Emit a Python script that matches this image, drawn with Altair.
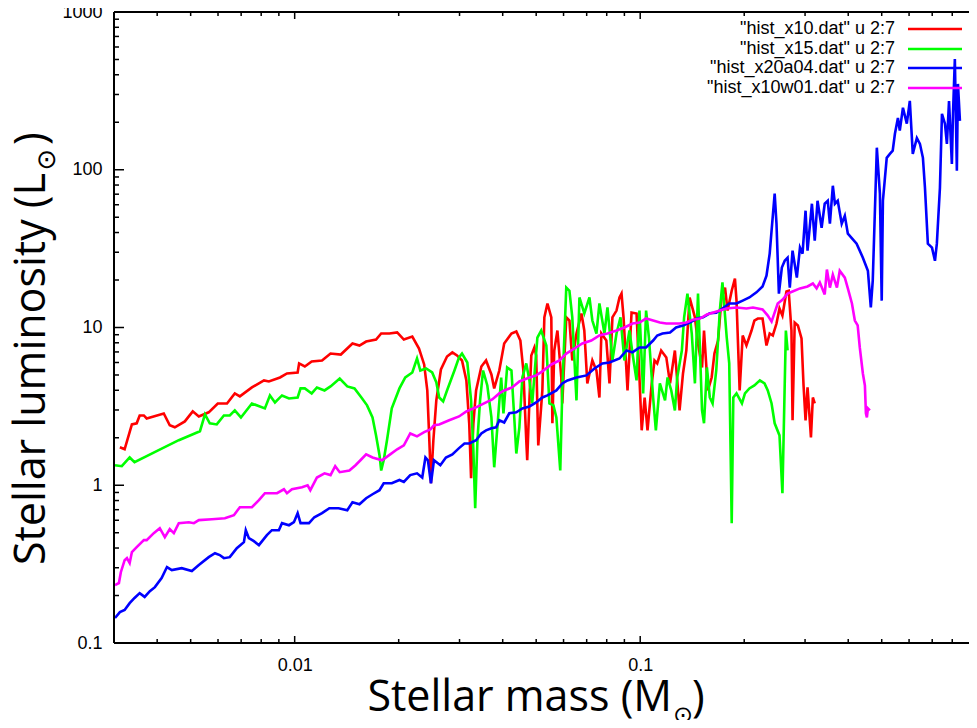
import altair as alt
import pandas as pd

# ---- data: (stellar mass [Msun], stellar luminosity [Lsun]) ----
red_points = [(0.00312,1.74),(0.00322,1.69),(0.00338,2.43),(0.00349,2.47),(0.00356,2.77),(0.00366,2.77),(0.00373,2.65),(0.00418,2.85),(0.00435,2.40),(0.00450,2.33),(0.00481,2.54),(0.00507,2.94),(0.00528,2.73),(0.00564,2.90),(0.00599,3.30),(0.00637,3.30),(0.00671,3.82),(0.00694,3.66),(0.00752,4.17),(0.00815,4.62),(0.00842,4.55),(0.00907,4.82),(0.00950,5.11),(0.0102,5.19),(0.0103,5.92),(0.0107,5.66),(0.0112,6.09),(0.0120,6.18),(0.0127,6.84),(0.0136,6.74),(0.0147,7.92),(0.0154,7.69),(0.0161,8.15),(0.0172,8.39),(0.0178,9.16),(0.0188,9.16),(0.0198,9.30),(0.0207,8.39),(0.0219,8.77),(0.0229,7.36),(0.0237,5.83),(0.0242,3.99),(0.0245,2.07),(0.0248,1.03),(0.0252,1.93),(0.0257,3.45),(0.0265,5.42),(0.0276,6.55),(0.0286,6.95),(0.0295,6.65),(0.0305,6.18),(0.0314,4.62),(0.0320,2.47),(0.0324,1.11),(0.0329,2.47),(0.0335,3.99),(0.0347,5.66),(0.0358,6.18),(0.0371,5.04),(0.0378,4.11),(0.0391,5.34),(0.0404,7.92),(0.0424,9.16),(0.0438,9.43),(0.0450,8.27),(0.0459,5.34),(0.0468,1.93),(0.0471,1.44),(0.0478,3.45),(0.0484,6.65),(0.0494,7.47),(0.0500,6.65),(0.0507,1.79),(0.0521,3.99),(0.0528,11.6),(0.0539,14.2),(0.0553,11.6),(0.0557,2.47),(0.0564,7.15),(0.0576,9.57),(0.0591,4.82),(0.0595,3.30),(0.0611,11.6),(0.0624,11.07),(0.0636,6.18),(0.0654,9.16),(0.0676,12.26),(0.0689,9.57),(0.0703,4.42),(0.0727,6.18),(0.0747,5.34),(0.0762,3.60),(0.0772,9.16),(0.0798,8.27),(0.0815,4.42),(0.0831,11.6),(0.0854,12.8),(0.0871,15.5),(0.0883,16.4),(0.0895,11.6),(0.0919,3.99),(0.0944,12.44),(0.0976,12.26),(0.0995,4.82),(0.101,2.23),(0.103,3.60),(0.105,2.23),(0.108,4.42),(0.110,6.18),(0.112,5.92),(0.115,7.15),(0.119,6.46),(0.122,4.42),(0.126,7.15),(0.130,2.98),(0.133,5.11),(0.136,7.15),(0.139,15.5),(0.144,11.6),(0.147,7.92),(0.151,5.58),(0.153,9.57),(0.157,3.99),(0.161,4.82),(0.164,6.84),(0.168,8.27),(0.172,15.5),(0.176,17.9),(0.179,12.8),(0.184,17.1),(0.188,20.4),(0.190,14.8),(0.194,3.99),(0.198,8.90),(0.203,7.69),(0.210,9.57),(0.214,11.07),(0.219,11.4),(0.226,11.4),(0.232,7.69),(0.237,9.16),(0.242,8.90),(0.248,10.6),(0.253,13.2),(0.258,11.9),(0.265,16.9),(0.269,17.1),(0.274,9.57),(0.276,2.58),(0.280,10.75),(0.286,10.3),(0.293,8.52),(0.297,4.29),(0.301,2.58),(0.305,4.17),(0.312,2.01),(0.316,3.60),(0.320,3.30)]

green_points = [(0.00302,1.34),(0.00316,1.32),(0.00333,1.50),(0.00344,1.40),(0.00404,1.67),(0.00462,1.93),(0.00532,2.20),(0.00550,2.81),(0.00568,2.47),(0.00595,2.43),(0.00624,2.77),(0.00649,2.77),(0.00671,2.98),(0.00699,2.69),(0.00752,3.30),(0.00820,3.07),(0.00848,3.71),(0.00877,3.35),(0.00919,3.71),(0.00963,3.55),(0.0102,3.60),(0.0104,4.11),(0.0107,4.11),(0.0112,3.82),(0.0116,4.17),(0.0122,3.99),(0.0127,4.23),(0.0135,4.75),(0.0142,4.23),(0.0149,4.11),(0.0156,3.60),(0.0162,3.21),(0.0168,2.69),(0.0172,2.07),(0.0176,1.55),(0.0178,1.24),(0.0181,1.44),(0.0185,1.93),(0.0191,3.07),(0.0201,4.11),(0.0209,4.82),(0.0219,5.19),(0.0226,6.36),(0.0231,5.34),(0.0240,5.50),(0.0250,5.19),(0.0257,4.49),(0.0262,3.60),(0.0269,3.40),(0.0276,3.99),(0.0290,5.34),(0.0299,6.46),(0.0305,6.84),(0.0316,6.00),(0.0324,3.45),(0.0329,1.67),(0.0333,0.715),(0.0338,1.93),(0.0344,3.45),(0.0351,5.34),(0.0361,4.29),(0.0371,2.69),(0.0378,1.30),(0.0386,2.33),(0.0396,4.82),(0.0402,2.85),(0.0412,5.58),(0.0424,5.34),(0.0432,2.69),(0.0438,1.59),(0.0447,2.33),(0.0456,4.82),(0.0468,5.92),(0.0478,4.62),(0.0487,3.30),(0.0504,8.64),(0.0517,9.57),(0.0535,7.69),(0.0546,3.30),(0.0561,3.21),(0.0572,2.69),(0.0587,1.24),(0.0595,3.99),(0.0611,17.9),(0.0624,17.1),(0.0636,11.6),(0.0654,3.45),(0.0667,15.5),(0.0689,12.3),(0.0713,15.5),(0.0727,11.07),(0.0747,9.16),(0.0762,14.2),(0.0788,9.16),(0.0804,13.4),(0.0831,6.18),(0.0854,9.16),(0.0877,11.6),(0.0900,6.18),(0.0931,9.57),(0.0950,6.84),(0.0976,4.62),(0.0995,12.8),(0.102,3.82),(0.104,12.8),(0.106,8.64),(0.109,3.60),(0.111,2.23),(0.114,4.42),(0.118,3.45),(0.120,4.82),(0.123,3.99),(0.126,2.98),(0.128,4.82),(0.132,7.15),(0.134,11.6),(0.137,16.4),(0.141,9.16),(0.144,4.42),(0.147,16.4),(0.151,2.98),(0.153,2.47),(0.156,5.58),(0.159,3.60),(0.162,3.30),(0.166,5.34),(0.170,12.8),(0.173,19.3),(0.178,8.64),(0.181,5.92),(0.184,0.575),(0.186,3.60),(0.190,3.82),(0.197,3.30),(0.201,3.82),(0.207,4.11),(0.214,4.29),(0.222,4.62),(0.229,4.42),(0.234,3.99),(0.240,3.30),(0.245,2.47),(0.253,2.07),(0.258,0.890),(0.262,4.42),(0.264,9.57),(0.267,7.15)]

blue_points = [(0.00302,0.144),(0.00312,0.157),(0.00322,0.162),(0.00333,0.179),(0.00344,0.193),(0.00356,0.207),(0.00368,0.196),(0.00381,0.213),(0.00394,0.226),(0.00412,0.258),(0.00427,0.303),(0.00441,0.290),(0.00471,0.298),(0.00504,0.286),(0.00528,0.312),(0.00564,0.350),(0.00588,0.371),(0.00607,0.361),(0.00624,0.345),(0.00649,0.350),(0.00680,0.399),(0.00713,0.436),(0.00722,0.519),(0.00737,0.462),(0.00762,0.442),(0.00788,0.417),(0.00831,0.483),(0.00859,0.519),(0.00900,0.519),(0.00919,0.575),(0.00963,0.558),(0.00995,0.583),(0.0102,0.665),(0.0104,0.575),(0.0110,0.575),(0.0114,0.627),(0.0120,0.665),(0.0126,0.715),(0.0134,0.715),(0.0142,0.695),(0.0147,0.781),(0.0154,0.758),(0.0161,0.828),(0.0168,0.877),(0.0176,0.930),(0.0181,1.03),(0.0191,1.03),(0.0201,1.08),(0.0207,1.05),(0.0216,1.16),(0.0226,1.19),(0.0234,1.12),(0.0239,1.50),(0.0243,1.44),(0.0248,1.03),(0.0253,1.44),(0.0264,1.34),(0.0274,1.50),(0.0286,1.57),(0.0299,1.72),(0.0310,1.84),(0.0320,1.84),(0.0335,1.93),(0.0347,2.13),(0.0358,2.23),(0.0371,2.30),(0.0383,2.33),(0.0391,2.58),(0.0404,2.50),(0.0418,2.86),(0.0438,2.90),(0.0456,3.07),(0.0478,3.16),(0.0500,3.35),(0.0521,3.60),(0.0539,3.71),(0.0572,3.99),(0.0595,4.42),(0.0616,4.62),(0.0654,4.82),(0.0699,4.97),(0.0737,5.50),(0.0777,5.92),(0.0815,6.00),(0.0871,6.36),(0.0913,7.15),(0.0950,6.95),(0.0995,7.47),(0.104,7.47),(0.109,8.27),(0.112,8.90),(0.116,9.16),(0.122,9.30),(0.127,10.0),(0.133,10.3),(0.139,10.75),(0.146,11.4),(0.152,11.6),(0.159,12.3),(0.166,12.4),(0.173,13.2),(0.181,14.2),(0.190,14.2),(0.198,14.8),(0.207,15.5),(0.217,16.7),(0.226,18.2),(0.232,21.3),(0.237,29.4),(0.240,41.1),(0.245,70.5),(0.248,45.5),(0.252,16.4),(0.257,24.0),(0.262,26.5),(0.267,27.7),(0.271,17.9),(0.276,30.7),(0.284,20.7),(0.290,32.1),(0.295,29.4),(0.301,55.0),(0.305,30.7),(0.314,60.9),(0.320,35.5),(0.326,63.6),(0.335,42.9),(0.342,60.9),(0.349,63.6),(0.354,45.5),(0.361,79.2),(0.366,60.9),(0.373,63.6),(0.383,45.5),(0.391,51.1),(0.399,39.3),(0.423,34.0),(0.441,27.7),(0.456,22.9),(0.465,13.4),(0.471,19.8),(0.484,138),(0.494,70.5),(0.500,14.8),(0.504,63.6),(0.517,119),(0.528,126),(0.538,132),(0.546,169),(0.557,213),(0.564,177),(0.576,247),(0.591,196),(0.603,273),(0.615,126),(0.632,159),(0.645,146),(0.658,119),(0.667,76.9),(0.680,34.0),(0.699,32.1),(0.713,26.5),(0.722,34.0),(0.737,76.9),(0.747,226),(0.762,196),(0.772,146),(0.783,273),(0.798,109),(0.804,226),(0.814,504),(0.825,98.5),(0.831,350),(0.842,204)]

magenta_points = [(0.00302,0.233),(0.00310,0.240),(0.00314,0.281),(0.00322,0.335),(0.00327,0.345),(0.00333,0.321),(0.00338,0.377),(0.00349,0.405),(0.00366,0.449),(0.00373,0.449),(0.00391,0.497),(0.00407,0.534),(0.00421,0.469),(0.00435,0.527),(0.00447,0.497),(0.00462,0.575),(0.00494,0.583),(0.00511,0.575),(0.00528,0.601),(0.00576,0.609),(0.00628,0.618),(0.00667,0.646),(0.00694,0.726),(0.00752,0.726),(0.00788,0.804),(0.00820,0.890),(0.00889,0.890),(0.00931,0.943),(0.00950,0.890),(0.00982,0.943),(0.0105,0.971),(0.0109,1.00),(0.0111,0.930),(0.0116,1.12),(0.0122,1.19),(0.0127,1.16),(0.0131,1.32),(0.0135,1.21),(0.0144,1.24),(0.0150,1.34),(0.0155,1.44),(0.0161,1.57),(0.0168,1.50),(0.0179,1.44),(0.0189,1.57),(0.0198,1.69),(0.0207,1.79),(0.0216,2.13),(0.0226,2.04),(0.0237,2.17),(0.0247,2.26),(0.0253,2.40),(0.0262,2.43),(0.0280,2.58),(0.0299,2.73),(0.0314,2.94),(0.0335,3.12),(0.0358,3.35),(0.0373,3.50),(0.0391,3.82),(0.0404,3.99),(0.0426,4.17),(0.0447,4.55),(0.0478,4.82),(0.0500,4.97),(0.0521,5.27),(0.0553,5.83),(0.0584,6.18),(0.0611,6.84),(0.0645,7.36),(0.0680,7.92),(0.0722,8.27),(0.0762,8.90),(0.0804,9.16),(0.0854,9.57),(0.0900,10.0),(0.0950,10.6),(0.0995,10.75),(0.104,11.4),(0.109,11.07),(0.114,10.75),(0.119,10.6),(0.124,10.6),(0.130,10.6),(0.136,10.75),(0.142,11.2),(0.149,11.4),(0.156,12.1),(0.162,12.4),(0.170,12.8),(0.178,13.2),(0.190,13.4),(0.203,13.2),(0.212,13.4),(0.226,13.0),(0.234,11.9),(0.240,10.9),(0.250,14.2),(0.258,15.0),(0.267,16.4),(0.276,16.9),(0.290,17.7),(0.305,18.2),(0.316,19.0),(0.324,17.7),(0.331,19.3),(0.342,16.2),(0.347,23.3),(0.354,17.9),(0.361,21.6),(0.371,17.9),(0.378,22.9),(0.391,20.7),(0.399,17.7),(0.410,14.2),(0.418,11.07),(0.426,10.3),(0.432,7.47),(0.441,5.11),(0.447,4.29),(0.450,2.86),(0.453,2.69),(0.456,3.07),(0.462,2.98)]

series_names = ['"hist_x10.dat" u 2:7', '"hist_x15.dat" u 2:7',
                '"hist_x20a04.dat" u 2:7', '"hist_x10w01.dat" u 2:7']
series_colors = ["#ff0000", "#00ff00", "#0000ff", "#ff00ff"]
series_points = [red_points, green_points, blue_points, magenta_points]

# visible x range: the picture is cropped on the right
x_domain = [0.003, 0.8945]
y_domain = [0.1, 1000]
x_label_values = [0.01, 0.1]
y_label_values = [0.1, 1, 10, 100, 1000]
x_major_ticks = [0.01, 0.1]
x_minor_ticks = [0.003, 0.004, 0.005, 0.006, 0.007, 0.008, 0.009,
                 0.02, 0.03, 0.04, 0.05, 0.06, 0.07, 0.08, 0.09,
                 0.2, 0.3, 0.4, 0.5, 0.6, 0.7, 0.8]
y_major_ticks = [0.1, 1, 10, 100, 1000]
y_minor_ticks = [0.2, 0.3, 0.4, 0.5, 0.6, 0.7, 0.8, 0.9,
                 2, 3, 4, 5, 6, 7, 8, 9,
                 20, 30, 40, 50, 60, 70, 80, 90,
                 200, 300, 400, 500, 600, 700, 800, 900]

x_title = "Stellar mass (M"
y_title = "Stellar luminosity (L"
sun_symbol = "\u2299"

# ---- layout ----
W, H = 855, 631
TITLE_FONT = "Open Sans"
TICK_FONT = "Liberation Sans"

xscale = alt.Scale(type="log", domain=x_domain, nice=False)
yscale = alt.Scale(type="log", domain=y_domain, nice=False)

x_axis = alt.Axis(values=x_label_values, format="~g", ticks=False, tickSize=0, domain=False,
                  grid=False, labelFont=TICK_FONT, labelFontSize=18, labelColor="black",
                  labelPadding=13, labelFlush=False, title=None)
y_axis = alt.Axis(values=y_label_values, format="~g", ticks=False, tickSize=0, domain=False,
                  grid=False, labelFont=TICK_FONT, labelFontSize=18, labelColor="black",
                  labelPadding=12, labelOverlap=False, title=None)

layers = []
for pts, col in zip(series_points, series_colors):
    df = pd.DataFrame(pts, columns=["m", "L"])
    df["i"] = range(len(df))
    layers.append(
        alt.Chart(df).mark_line(color=col, strokeWidth=2.6, clip=True).encode(
            x=alt.X("m:Q", scale=xscale, axis=x_axis, title=None),
            y=alt.Y("L:Q", scale=yscale, axis=y_axis, title=None),
            order=alt.Order("i:Q"),
        )
    )

# plot border on the visible sides (the right side lies beyond the crop)
border_df = pd.DataFrame({"side": ["left", "top", "bottom"]})
layers.append(alt.Chart(border_df.iloc[[0]]).mark_rule(color="black", strokeWidth=2).encode(
    x=alt.value(0), y=alt.value(0), y2=alt.value(H)))
layers.append(alt.Chart(border_df.iloc[[1]]).mark_rule(color="black", strokeWidth=2).encode(
    x=alt.value(0), x2=alt.value(W), y=alt.value(0)))
layers.append(alt.Chart(border_df.iloc[[2]]).mark_rule(color="black", strokeWidth=2).encode(
    x=alt.value(0), x2=alt.value(W), y=alt.value(H)))

def y_ticks(vals, length):
    df = pd.DataFrame({"L": vals})
    return [alt.Chart(df).mark_rule(color="black", strokeWidth=1.5).encode(
        y=alt.Y("L:Q", scale=yscale, axis=y_axis, title=None),
        x=alt.value(0), x2=alt.value(length))]

def x_ticks(vals, length):
    df = pd.DataFrame({"m": vals})
    bottom = alt.Chart(df).mark_rule(color="black", strokeWidth=1.5).encode(
        x=alt.X("m:Q", scale=xscale, axis=x_axis, title=None),
        y=alt.value(H), y2=alt.value(H - length))
    top = alt.Chart(df).mark_rule(color="black", strokeWidth=1.5).encode(
        x=alt.X("m:Q", scale=xscale, axis=x_axis, title=None),
        y=alt.value(0), y2=alt.value(length))
    return [bottom, top]

layers += y_ticks(y_major_ticks, 10) + y_ticks(y_minor_ticks, 5)
layers += x_ticks(x_major_ticks, 7) + x_ticks(x_minor_ticks, 4)

# ---- gnuplot-style key ----
legend_rows = [17, 37, 56, 76]
for name, col, ly in zip(series_names, series_colors, legend_rows):
    dfl = pd.DataFrame({"t": [name]})
    layers.append(alt.Chart(dfl).mark_text(align="right", baseline="middle", font=TICK_FONT,
                                           fontSize=18, color="black").encode(
        x=alt.value(781), y=alt.value(ly), text="t:N"))
    layers.append(alt.Chart(dfl).mark_rule(color=col, strokeWidth=2.6).encode(
        x=alt.value(794), x2=alt.value(848), y=alt.value(ly)))

# ---- axis titles with subscript sun symbol ----
def txt(s, x, y, size, font=TITLE_FONT, align="left", baseline="alphabetic", angle=0):
    kw = dict(align=align, baseline=baseline, font=font, fontSize=size, color="black")
    if angle:
        kw["angle"] = angle
    return alt.Chart(pd.DataFrame({"t": [s]})).mark_text(**kw).encode(
        x=alt.value(x), y=alt.value(y), text="t:N")

layers.append(txt(x_title, 558, 699, 43, align="right"))
layers.append(txt(sun_symbol, 569, 704, 24, font="DejaVu Sans", align="center", baseline="middle"))
layers.append(txt(")", 578, 699, 43))
layers.append(txt(y_title, -69, 161, 43, align="right", angle=270))
layers.append(txt(sun_symbol, -67, 148, 26, font="DejaVu Sans", align="center", baseline="middle"))
layers.append(txt(")", -69, 133, 43, angle=270))

chart = alt.layer(*layers).properties(
    width=W, height=H,
    padding={"left": 106, "top": 4, "right": 0, "bottom": 77},
    autosize=alt.AutoSizeParams(type="none"),
    background="white",
).configure_view(stroke=None)

chart.save("out.html", embed_options={"renderer": "svg", "actions": False})
